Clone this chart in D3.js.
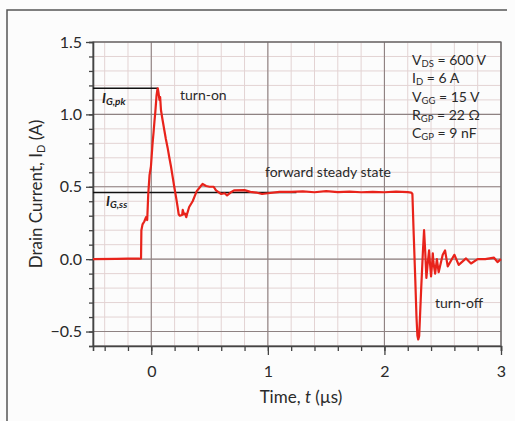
<!DOCTYPE html>
<html><head><meta charset="utf-8">
<script src="https://cdn.jsdelivr.net/npm/d3@7"></script>
<style>body{margin:0;background:#fff}svg{display:block}</style>
</head><body><svg id="chart"></svg>
<script>
// drain current trace, time in µs, current in A
const timeUs = [-0.5, -0.3, -0.2, -0.1, -0.088, -0.085, -0.075, -0.06, -0.045, -0.035,
  -0.026, -0.015, -0.003, 0.011, 0.02, 0.027, 0.034, 0.045, 0.052, 0.056, 0.062, 0.07, 0.076,
  0.083, 0.095, 0.112, 0.125, 0.14, 0.155, 0.169, 0.183, 0.197, 0.212, 0.226, 0.235, 0.245,
  0.265, 0.27, 0.28, 0.29, 0.3, 0.31, 0.325, 0.355, 0.37, 0.39, 0.42, 0.44, 0.47, 0.5, 0.535,
  0.555, 0.6, 0.63, 0.65, 0.68, 0.71, 0.8, 0.85, 0.9, 0.95, 1.0, 1.1, 1.2, 1.3, 1.4, 1.5, 1.6,
  1.7, 1.8, 1.9, 2.0, 2.1, 2.2, 2.23,
  2.24, 2.25, 2.265, 2.275, 2.283, 2.29, 2.298, 2.305, 2.315, 2.33, 2.34, 2.35, 2.36, 2.37,
  2.383, 2.39, 2.4, 2.41, 2.415, 2.42, 2.435, 2.45, 2.465, 2.5, 2.52, 2.543, 2.6, 2.637, 2.7,
  2.743, 2.8, 2.865, 2.94, 2.97, 3.0];
const drainA = [0.0, 0.002, 0.004, 0.003, 0.005, 0.20, 0.24, 0.26, 0.29, 0.27,
  0.45, 0.58, 0.64, 0.80, 0.88, 0.95, 1.01, 1.13, 1.17, 1.18, 1.15, 1.10, 1.12,
  1.03, 0.97, 0.89, 0.83, 0.77, 0.70, 0.64, 0.57, 0.50, 0.43, 0.36, 0.31, 0.30,
  0.305, 0.34, 0.31, 0.315, 0.29, 0.32, 0.36, 0.40, 0.43, 0.47, 0.50, 0.52, 0.505, 0.50, 0.50,
  0.475, 0.45, 0.455, 0.44, 0.46, 0.475, 0.477, 0.465, 0.46, 0.45, 0.455, 0.465, 0.465, 0.468,
  0.462, 0.47, 0.463, 0.466, 0.462, 0.465, 0.462, 0.466, 0.463, 0.46,
  0.45, 0.2, -0.15, -0.40, -0.53, -0.555, -0.53, -0.40, -0.21, 0.05, 0.2, 0.05, -0.13, -0.04,
  0.06, -0.02, -0.12, -0.02, 0.04, -0.02, -0.1, 0.0, -0.09, 0.03, 0.06, -0.05, 0.03, -0.04, 0.005,
  -0.03, 0.0, 0.0, 0.01, -0.02, 0.0];

const xTicks = [0, 1, 2, 3];
const yTicks = [-0.5, 0.0, 0.5, 1.0, 1.5];
// reference levels: gate peak and steady state
const refLevel = [1.18, 0.46];
const refEnd = [0.056, 1.245];
const params = [["V", "DS", " = 600 V"], ["I", "D", " = 6 A"], ["V", "GG", " = 15 V"],
  ["R", "GP", " = 22 Ω"], ["C", "GP", " = 9 nF"]];

const W = 515, H = 421;
const m = { top: 42, right: 14, bottom: 75, left: 93 };
const FONT = "Lato, 'Open Sans', sans-serif";

const x = d3.scaleLinear().domain([-0.5, 3]).range([m.left, W - m.right]);
const y = d3.scaleLinear().domain([-0.6, 1.5]).range([H - m.bottom, m.top]);

const svg = d3.select("#chart").attr("width", W).attr("height", H);
svg.append("rect").attr("width", W).attr("height", H).attr("fill", "#fcfcfc");

// outer figure frame (top and left only)
svg.append("path").attr("d", `M7,${H} V10 H507`)
  .attr("fill", "none").attr("stroke", "#555").attr("stroke-width", 1.5);

const g = svg.append("g");

// grid
const minorX = d3.range(-0.4, 3.001, 0.2).map(v => +v.toFixed(1));
const minorY = d3.range(-0.6, 1.501, 0.1).map(v => +v.toFixed(1));
g.append("g").selectAll("line").data(minorX).join("line")
  .attr("x1", d => x(d)).attr("x2", d => x(d)).attr("y1", y(1.5)).attr("y2", y(-0.6))
  .attr("stroke", "#e3d3d3").attr("stroke-width", 1);
g.append("g").selectAll("line").data(minorY).join("line")
  .attr("y1", d => y(d)).attr("y2", d => y(d)).attr("x1", x(-0.5)).attr("x2", x(3))
  .attr("stroke", "#e3d3d3").attr("stroke-width", 1);
g.append("g").selectAll("line").data(xTicks).join("line")
  .attr("x1", d => x(d)).attr("x2", d => x(d)).attr("y1", y(1.5)).attr("y2", y(-0.6))
  .attr("stroke", "#8e8282").attr("stroke-width", 1.1);
g.append("g").selectAll("line").data(yTicks).join("line")
  .attr("y1", d => y(d)).attr("y2", d => y(d)).attr("x1", x(-0.5)).attr("x2", x(3))
  .attr("stroke", "#8e8282").attr("stroke-width", 1.1);

// plot frame
g.append("rect").attr("x", x(-0.5)).attr("y", y(1.5))
  .attr("width", x(3) - x(-0.5)).attr("height", y(-0.6) - y(1.5))
  .attr("fill", "none").attr("stroke", "#666").attr("stroke-width", 1.2);

// axes
const styleAxis = ax => {
  ax.select(".domain").attr("stroke", "#444").attr("stroke-width", 1.6);
  ax.selectAll(".tick line").attr("stroke", "#444").attr("stroke-width", 1.3);
  ax.selectAll(".tick text").style("fill", "#2a2a2a").style("font-size", "16px").style("font-family", FONT);
};
g.append("g").attr("transform", `translate(${m.left},0)`)
  .call(d3.axisLeft(y).tickValues(minorY).tickSize(4).tickFormat(""))
  .call(styleAxis);
g.append("g").attr("transform", `translate(${m.left},0)`)
  .call(d3.axisLeft(y).tickValues(yTicks).tickSize(7).tickPadding(4)
    .tickFormat(d => d < 0 ? "\u2212" + d3.format(".1f")(-d) : d3.format(".1f")(d)))
  .call(styleAxis).call(ax => ax.select(".domain").remove());
g.append("g").attr("transform", `translate(0,${H - m.bottom})`)
  .call(d3.axisBottom(x).tickValues(minorX).tickSize(5).tickFormat(""))
  .call(styleAxis);
g.append("g").attr("transform", `translate(0,${H - m.bottom})`)
  .call(d3.axisBottom(x).tickValues(xTicks).tickSize(9).tickPadding(11).tickFormat(d3.format("d")))
  .call(styleAxis).call(ax => ax.select(".domain").remove());

// reference lines
g.append("g").selectAll("line").data(refLevel).join("line")
  .attr("x1", x(-0.5)).attr("x2", (d, i) => x(refEnd[i]))
  .attr("y1", d => y(d)).attr("y2", d => y(d))
  .attr("stroke", "#111").attr("stroke-width", 1.5);

// trace
const pts = timeUs.map((t, i) => [t, drainA[i]]);
g.append("path").datum(pts)
  .attr("d", d3.line().x(d => x(d[0])).y(d => y(d[1])))
  .attr("fill", "none").attr("stroke", "#e8231b").attr("stroke-width", 2.2)
  .attr("stroke-linejoin", "round");

// labels
const txt = (px, py, size) => svg.append("text").attr("x", px).attr("y", py)
  .style("font-family", FONT).style("font-size", size + "px").style("fill", "#2a2a2a");

const subLabel = (px, py, main, sub) => {
  const t = txt(px, py, 14).style("font-weight", "bold").style("font-style", "italic").style("fill", "#222");
  t.append("tspan").text(main);
  t.append("tspan").attr("dy", 2).style("font-size", "10px").text(sub);
};
subLabel(102, 103, "I", "G,pk");
subLabel(106, 206, "I", "G,ss");

txt(180, 100, 14).text("turn-on");
txt(265, 177, 14).text("forward steady state");
txt(435, 308, 14).text("turn-off");

params.forEach((p, i) => {
  const t = txt(412, 65 + i * 18.3, 14);
  t.append("tspan").text(p[0]);
  t.append("tspan").attr("dy", 2).style("font-size", "9.5px").text(p[1]);
  t.append("tspan").attr("dy", -2).text(p[2]);
});

// axis titles
const yt = svg.append("text")
  .attr("transform", `translate(42,${y(0.45)}) rotate(-90)`)
  .attr("text-anchor", "middle")
  .style("font-family", FONT).style("font-size", "17px").style("fill", "#2a2a2a");
yt.append("tspan").text("Drain Current, I");
yt.append("tspan").attr("dy", 3).style("font-size", "11px").text("D");
yt.append("tspan").attr("dy", -3).text(" (A)");

const xt = txt((x(-0.5) + x(3)) / 2 + 4, 403, 17).attr("text-anchor", "middle");
xt.append("tspan").text("Time, ");
xt.append("tspan").style("font-style", "italic").text("t");
xt.append("tspan").text(" (µs)");
</script></body></html>
